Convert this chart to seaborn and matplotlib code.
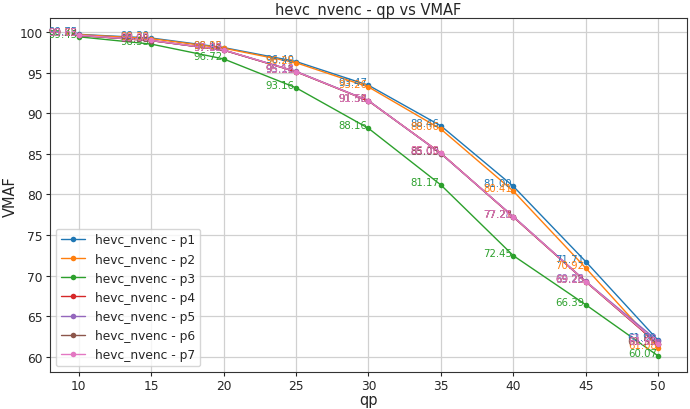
import numpy as np
import pandas as pd
import matplotlib.pyplot as plt
import seaborn as sns

qp = [10, 15, 20, 25, 30, 35, 40, 45, 50]

p1 = [99.75, 99.30, 98.12, 96.40, 93.47, 88.46, 81.00, 71.71, 61.99]
p2 = [99.72, 99.22, 98.05, 96.25, 93.26, 88.06, 80.41, 70.92, 61.08]
p3 = [99.45, 98.55, 96.72, 93.16, 88.16, 81.17, 72.45, 66.39, 60.07]
p4 = [99.62, 98.98, 97.80, 95.14, 91.54, 85.09, 77.21, 69.23, 61.50]
p5 = [99.63, 98.99, 97.82, 95.18, 91.58, 85.03, 77.28, 69.28, 61.88]
p6 = [99.62, 98.98, 97.81, 95.15, 91.55, 85.05, 77.23, 69.25, 61.55]
p7 = [99.65, 99.00, 97.83, 95.16, 91.56, 85.06, 77.25, 69.26, 61.60]

presets = ['p1', 'p2', 'p3', 'p4', 'p5', 'p6', 'p7']
series = [p1, p2, p3, p4, p5, p6, p7]

# long form table for seaborn
rows = []
for name, vals in zip(presets, series):
    for q, v in zip(qp, vals):
        rows.append({'qp': q, 'VMAF': v, 'preset': 'hevc_nvenc - ' + name})
df = pd.DataFrame(rows)

sns.set_style('whitegrid')
plt.rcParams['font.family'] = ['DejaVu Sans']
colors = sns.color_palette('tab10', 7)

fig, ax = plt.subplots(figsize=(6.9, 4.1), dpi=100)
sns.lineplot(data=df, x='qp', y='VMAF', hue='preset', palette=colors,
             marker='o', markersize=4, markeredgewidth=0, linewidth=1,
             ax=ax)

# value labels just left of each point
for name, vals, c in zip(presets, series, colors):
    for q, v in zip(qp, vals):
        ax.text(q - 0.1, v, '%.2f' % v, color=c, fontsize=7.3,
                ha='right', va='baseline')

ax.set_title('hevc_nvenc - qp vs VMAF', fontsize=10.5, pad=3)
ax.set_xlabel('qp', fontsize=10.5, labelpad=0)
ax.set_ylabel('VMAF', fontsize=10.5, labelpad=1)
ax.set_xticks([10, 15, 20, 25, 30, 35, 40, 45, 50])
ax.set_yticks([60, 65, 70, 75, 80, 85, 90, 95, 100])
ax.tick_params(labelsize=8.8, length=3, pad=2, left=True, bottom=True)
ax.grid(True, color='#d0d0d0', linewidth=0.9)
for s in ax.spines.values():
    s.set_color('#333333')
    s.set_linewidth(0.8)
ax.legend(loc='lower left', fontsize=8.8, frameon=True)

plt.subplots_adjust(left=0.072, right=0.996, top=0.953, bottom=0.09)
plt.savefig('out.png', dpi=100)
